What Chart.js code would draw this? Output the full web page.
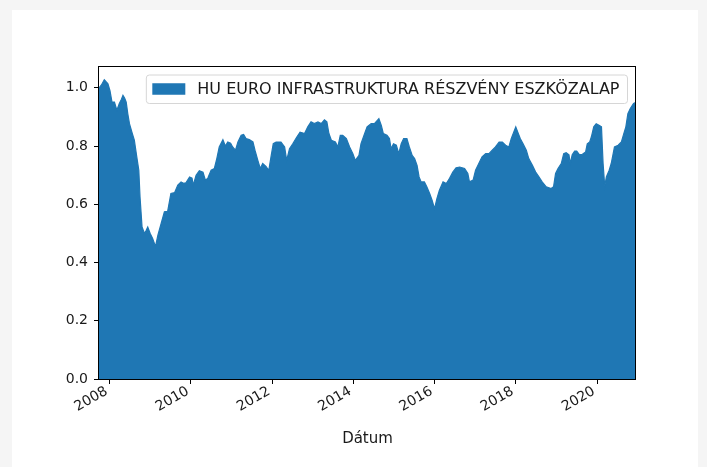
<!DOCTYPE html>
<html>
<head>
<meta charset="utf-8">
<script src="https://cdn.jsdelivr.net/npm/chart.js@4.4.1/dist/chart.umd.min.js"></script>
<style>
  html, body { margin: 0; padding: 0; background: #f5f5f5; }
  #card { position: absolute; left: 12px; top: 10px; width: 686px; height: 457px; background: #fff; }
  #myChart { position: absolute; left: 0; top: 0; }
</style>
</head>
<body>
<div id="card"></div>
<canvas id="myChart" width="707" height="467"></canvas>
<script>
// dates as decimal years
const dateYears = [
  2007.74, 2007.80, 2007.87, 2007.92, 2007.96, 2008.01, 2008.06, 2008.12, 2008.18, 2008.24,
  2008.29, 2008.33, 2008.37, 2008.41, 2008.45, 2008.49, 2008.55, 2008.61, 2008.67, 2008.72,
  2008.75, 2008.80, 2008.86, 2008.90, 2008.94, 2009.00, 2009.06, 2009.13, 2009.19, 2009.27,
  2009.35, 2009.43, 2009.51, 2009.60, 2009.68, 2009.76, 2009.82, 2009.88, 2009.97, 2010.03,
  2010.06, 2010.13, 2010.21, 2010.30, 2010.36, 2010.42, 2010.50, 2010.58, 2010.64, 2010.70,
  2010.79, 2010.85, 2010.91, 2010.98, 2011.03, 2011.10, 2011.16, 2011.24, 2011.30, 2011.36,
  2011.44, 2011.53, 2011.58, 2011.65, 2011.71, 2011.77, 2011.85, 2011.92, 2011.98, 2012.03,
  2012.10, 2012.22, 2012.31, 2012.36, 2012.43, 2012.51, 2012.61, 2012.69, 2012.80, 2012.88,
  2012.96, 2013.04, 2013.13, 2013.21, 2013.29, 2013.35, 2013.40, 2013.46, 2013.56, 2013.62,
  2013.68, 2013.74, 2013.83, 2013.91, 2013.99, 2014.05, 2014.14, 2014.19, 2014.28, 2014.34,
  2014.44, 2014.52, 2014.63, 2014.69, 2014.74, 2014.83, 2014.89, 2014.93, 2014.99, 2015.06,
  2015.12, 2015.18, 2015.24, 2015.32, 2015.38, 2015.45, 2015.51, 2015.57, 2015.62, 2015.67,
  2015.75, 2015.81, 2015.88, 2015.94, 2016.00, 2016.06, 2016.12, 2016.21, 2016.29, 2016.37,
  2016.45, 2016.53, 2016.62, 2016.74, 2016.82, 2016.86, 2016.95, 2017.01, 2017.09, 2017.17,
  2017.26, 2017.34, 2017.42, 2017.50, 2017.59, 2017.67, 2017.75, 2017.83, 2017.89, 2017.95,
  2018.00, 2018.05, 2018.11, 2018.18, 2018.26, 2018.32, 2018.41, 2018.49, 2018.57, 2018.65,
  2018.75, 2018.87, 2018.93, 2018.98, 2019.04, 2019.12, 2019.18, 2019.24, 2019.31, 2019.34,
  2019.39, 2019.45, 2019.50, 2019.57, 2019.64, 2019.72, 2019.76, 2019.82, 2019.86, 2019.92,
  2019.98, 2020.06, 2020.11, 2020.15, 2020.19, 2020.23, 2020.30, 2020.35, 2020.43, 2020.52,
  2020.60, 2020.66, 2020.71, 2020.76, 2020.82, 2020.90, 2020.96,
];
const navValues = [
  1.000, 1.010, 1.028, 1.020, 1.014, 0.990, 0.951, 0.951, 0.923, 0.946,
  0.960, 0.974, 0.965, 0.951, 0.910, 0.877, 0.848, 0.820, 0.763, 0.717,
  0.625, 0.522, 0.500, 0.510, 0.522, 0.500, 0.483, 0.455, 0.494, 0.534,
  0.574, 0.576, 0.637, 0.640, 0.666, 0.677, 0.672, 0.674, 0.694, 0.690,
  0.666, 0.700, 0.715, 0.710, 0.683, 0.690, 0.717, 0.723, 0.757, 0.797,
  0.822, 0.800, 0.814, 0.810, 0.797, 0.786, 0.814, 0.837, 0.840, 0.826,
  0.822, 0.814, 0.786, 0.751, 0.723, 0.740, 0.730, 0.717, 0.768, 0.808,
  0.814, 0.814, 0.797, 0.751, 0.791, 0.808, 0.831, 0.848, 0.843, 0.866,
  0.883, 0.877, 0.883, 0.877, 0.890, 0.883, 0.843, 0.820, 0.814, 0.797,
  0.837, 0.837, 0.826, 0.797, 0.774, 0.751, 0.768, 0.808, 0.843, 0.866,
  0.877, 0.877, 0.894, 0.871, 0.843, 0.837, 0.826, 0.791, 0.808, 0.803,
  0.774, 0.808, 0.826, 0.826, 0.797, 0.768, 0.757, 0.734, 0.694, 0.677,
  0.677, 0.660, 0.637, 0.614, 0.585, 0.620, 0.648, 0.677, 0.671, 0.689,
  0.711, 0.725, 0.728, 0.723, 0.706, 0.677, 0.683, 0.717, 0.740, 0.763,
  0.774, 0.774, 0.786, 0.797, 0.814, 0.814, 0.803, 0.797, 0.826, 0.848,
  0.866, 0.848, 0.826, 0.808, 0.786, 0.757, 0.734, 0.711, 0.694, 0.677,
  0.660, 0.654, 0.660, 0.706, 0.723, 0.740, 0.774, 0.777, 0.770, 0.740,
  0.770, 0.783, 0.783, 0.770, 0.772, 0.780, 0.808, 0.814, 0.831, 0.866,
  0.877, 0.871, 0.866, 0.740, 0.662, 0.694, 0.717, 0.740, 0.797, 0.803,
  0.814, 0.843, 0.866, 0.911, 0.929, 0.946, 0.950,
];
const seriesLabel = "HU EURO INFRASTRUKTURA RÉSZVÉNY ESZKÖZALAP";
const yTicks = [0, 0.2, 0.4, 0.6, 0.8, 1.0];
const xTickYears = [2008, 2010, 2012, 2014, 2016, 2018, 2020];

const blue = "#1f77b4";
const font = '"DejaVu Sans", sans-serif';

// matplotlib style frame around the plot area
const frame = {
  id: "frame",
  afterDatasetsDraw(chart) {
    const { ctx, chartArea: a } = chart;
    ctx.save();
    ctx.strokeStyle = "#000";
    ctx.lineWidth = 1;
    ctx.strokeRect(a.left - 0.5, a.top + 0.5, a.right - a.left, a.bottom - a.top);
    ctx.restore();
  },
};

// legend box in the upper right corner, inside the axes
const legendBox = {
  id: "legendBox",
  afterDraw(chart) {
    const { ctx, chartArea: a } = chart;
    const label = chart.data.datasets[0].label;
    ctx.save();
    ctx.font = "16px " + font;
    const tw = ctx.measureText(label).width;
    const right = a.right - 8.5;
    const top = a.top + 9;
    const h = 28.5;
    const textX = right - 8;
    const textStart = textX - tw;
    const hR = textStart - 12;
    const hL = hR - 33;
    const left = hL - 6;
    const r = 3;
    ctx.beginPath();
    ctx.moveTo(left + r, top);
    ctx.lineTo(right - r, top);
    ctx.arcTo(right, top, right, top + r, r);
    ctx.lineTo(right, top + h - r);
    ctx.arcTo(right, top + h, right - r, top + h, r);
    ctx.lineTo(left + r, top + h);
    ctx.arcTo(left, top + h, left, top + h - r, r);
    ctx.lineTo(left, top + r);
    ctx.arcTo(left, top, left + r, top, r);
    ctx.closePath();
    ctx.fillStyle = "rgba(255,255,255,0.8)";
    ctx.fill();
    ctx.strokeStyle = "#d6d6d6";
    ctx.lineWidth = 1;
    ctx.stroke();
    ctx.fillStyle = blue;
    ctx.fillRect(hL, top + h / 2 - 6, hR - hL, 11.5);
    ctx.fillStyle = "#1a1a1a";
    ctx.textAlign = "right";
    ctx.textBaseline = "middle";
    ctx.fillText(label, textX, top + h / 2 + 0.5);
    ctx.restore();
  },
};

new Chart(document.getElementById("myChart"), {
  type: "line",
  data: {
    datasets: [
      {
        label: seriesLabel,
        data: dateYears.map((d, i) => ({ x: d, y: navValues[i] })),
        borderColor: blue,
        backgroundColor: blue,
        borderWidth: 1.2,
        fill: "origin",
        pointRadius: 0,
        tension: 0,
      },
    ],
  },
  options: {
    responsive: false,
    animation: false,
    layout: { padding: { left: 0, top: 66, right: 71, bottom: 19 } },
    plugins: { legend: { display: false }, tooltip: { enabled: false } },
    scales: {
      x: {
        type: "linear",
        min: dateYears[0],
        max: dateYears[dateYears.length - 1],
        afterFit(scale) { scale.height = 69; },
        afterBuildTicks(scale) { scale.ticks = xTickYears.map((v) => ({ value: v })); },
        border: { display: false },
        grid: { drawOnChartArea: false, tickLength: 5, tickColor: "#000", color: "#000" },
        ticks: {
          minRotation: 30,
          maxRotation: 30,
          padding: -1,
          labelOffset: -3,
          color: "#1a1a1a",
          font: { family: font, size: 14 },
          callback: (v) => String(v),
        },
        title: {
          display: true,
          text: "Dátum",
          color: "#1a1a1a",
          font: { family: font, size: 15 },
          padding: 0,
        },
      },
      y: {
        min: 0,
        max: 1.075,
        afterFit(scale) { scale.width = 99; },
        afterBuildTicks(scale) { scale.ticks = yTicks.map((v) => ({ value: v })); },
        border: { display: false },
        grid: { drawOnChartArea: false, tickLength: 5, tickColor: "#000", color: "#000" },
        ticks: {
          padding: 6,
          color: "#1a1a1a",
          font: { family: font, size: 14 },
          callback: (v) => v.toFixed(1),
        },
      },
    },
  },
  plugins: [frame, legendBox],
});
</script>
</body>
</html>
